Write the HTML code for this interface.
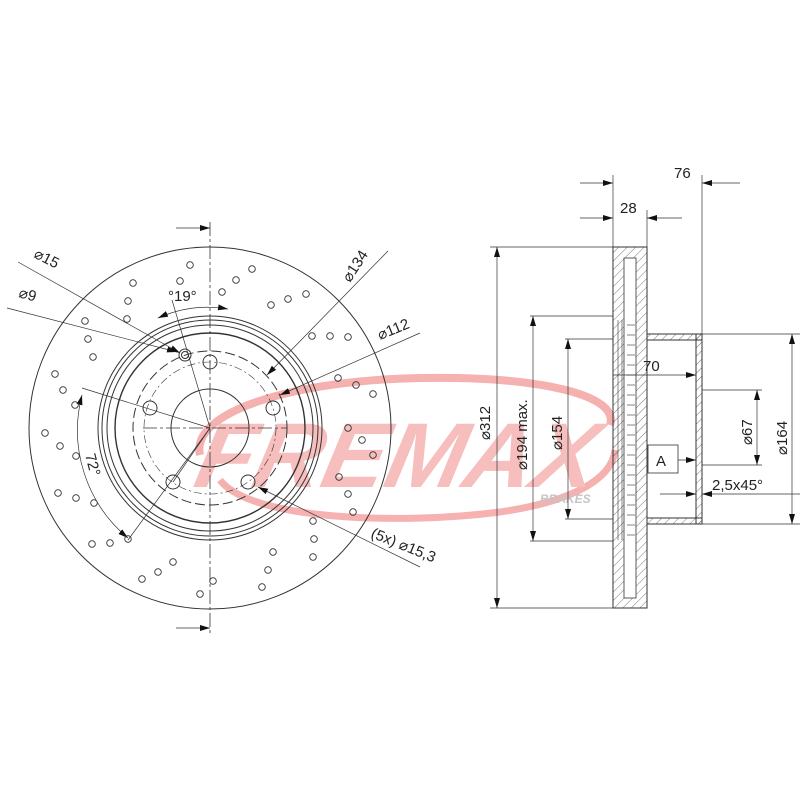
<!DOCTYPE html>
<html><head><meta charset="utf-8"><style>html,body{margin:0;padding:0;background:#fff}svg{display:block}</style></head>
<body>
<svg width="800" height="800" viewBox="0 0 800 800" xmlns="http://www.w3.org/2000/svg" font-family="Liberation Sans, sans-serif">
<defs>
<pattern id="h" width="6" height="6" patternUnits="userSpaceOnUse" patternTransform="rotate(45)">
<line x1="0" y1="0" x2="0" y2="6" stroke="#555" stroke-width="0.8"/></pattern>
<marker id="a" viewBox="0 0 10 6" refX="10" refY="3" markerWidth="10" markerHeight="6" orient="auto-start-reverse" markerUnits="userSpaceOnUse"><path d="M0,0L10,3L0,6z" fill="#111"/></marker>
</defs>

<!-- FREMAX logo -->
<g opacity="0.85">
<path d="M200,455 C190,410 300,380 420,378 C540,376 620,395 610,425" fill="none" stroke="#f4a3a3" stroke-width="8"/>
<path d="M220,480 C250,520 400,525 500,512 C570,502 612,480 615,450" fill="none" stroke="#f4a3a3" stroke-width="7"/>
<text x="200" y="487" font-size="92" font-weight="bold" font-style="italic" fill="#f6b3b3" transform="skewX(-12) translate(95 0)" textLength="400" lengthAdjust="spacingAndGlyphs">FREMAX</text>
<text x="540" y="503" font-size="12" font-weight="bold" font-style="italic" fill="#bbb">BRAKES</text>
</g>

<g fill="none" stroke="#333" stroke-width="1">
<!-- left view -->
<circle cx="210" cy="428" r="181"/>
<circle cx="210" cy="428" r="112"/>
<circle cx="210" cy="428" r="108"/>
<circle cx="210" cy="428" r="103"/>
<circle cx="210" cy="428" r="95" stroke-width="1.4"/>
<circle cx="210" cy="428" r="77" stroke-dasharray="10 4"/>
<circle cx="210" cy="428" r="39"/>
<circle cx="210" cy="428" r="66" stroke-dasharray="8 3 2 3" stroke-width="0.6"/>
<line x1="210" y1="222" x2="210" y2="636" stroke-dasharray="14 3 3 3" stroke-width="0.8"/>
<line x1="143" y1="428" x2="287" y2="428" stroke-dasharray="14 3 3 3" stroke-width="0.7"/>
<g>
<circle cx="210" cy="362" r="7"/><circle cx="150" cy="408" r="7"/><circle cx="173" cy="482" r="7"/><circle cx="248" cy="482" r="7"/><circle cx="273" cy="408" r="7"/>
<circle cx="185" cy="355" r="6"/><circle cx="185" cy="355" r="3.5"/>
</g>
<g stroke-width="0.7">
<line x1="210" y1="428" x2="82" y2="388"/>
<line x1="210" y1="428" x2="128" y2="540"/>
<line x1="210" y1="428" x2="172" y2="300"/>
<line x1="210" y1="428" x2="173" y2="482"/>
<path d="M82,395 A140 140 0 0 0 128 538" marker-start="url(#a)" marker-end="url(#a)"/>
<path d="M158,318 A122 122 0 0 1 228 309" marker-start="url(#a)" marker-end="url(#a)"/>
<line x1="18" y1="262" x2="180" y2="353" marker-end="url(#a)"/>
<line x1="7" y1="308" x2="177" y2="352" marker-end="url(#a)"/>
<line x1="388" y1="251" x2="267" y2="375" marker-end="url(#a)"/>
<line x1="420" y1="333" x2="280" y2="395" marker-end="url(#a)"/>
<line x1="420" y1="567" x2="258" y2="487" marker-end="url(#a)"/>
<line x1="176" y1="228" x2="210" y2="228" marker-end="url(#a)"/>
<line x1="176" y1="628" x2="210" y2="628" marker-end="url(#a)"/>
</g>
<!-- drill holes -->
<g stroke-width="0.9">
<circle cx="190" cy="265" r="3.3"/><circle cx="252" cy="269" r="3.3"/><circle cx="180" cy="281" r="3.3"/><circle cx="236" cy="280" r="3.3"/><circle cx="133" cy="283" r="3.3"/><circle cx="222" cy="292" r="3.3"/><circle cx="306" cy="294" r="3.3"/><circle cx="288" cy="299" r="3.3"/><circle cx="271" cy="305" r="3.3"/><circle cx="128" cy="301" r="3.3"/><circle cx="127" cy="319" r="3.3"/><circle cx="85" cy="321" r="3.3"/><circle cx="88" cy="339" r="3.3"/><circle cx="93" cy="357" r="3.3"/><circle cx="312" cy="336" r="3.3"/><circle cx="330" cy="336" r="3.3"/><circle cx="348" cy="337" r="3.3"/><circle cx="55" cy="374" r="3.3"/><circle cx="63" cy="390" r="3.3"/><circle cx="75" cy="405" r="3.3"/><circle cx="338" cy="378" r="3.3"/><circle cx="356" cy="385" r="3.3"/><circle cx="373" cy="394" r="3.3"/><circle cx="348" cy="428" r="3.3"/><circle cx="362" cy="440" r="3.3"/><circle cx="373" cy="455" r="3.3"/><circle cx="339" cy="477" r="3.3"/><circle cx="348" cy="494" r="3.3"/><circle cx="353" cy="512" r="3.3"/><circle cx="45" cy="433" r="3.3"/><circle cx="60" cy="446" r="3.3"/><circle cx="76" cy="456" r="3.3"/><circle cx="58" cy="493" r="3.3"/><circle cx="76" cy="498" r="3.3"/><circle cx="94" cy="503" r="3.3"/><circle cx="313" cy="521" r="3.3"/><circle cx="314" cy="539" r="3.3"/><circle cx="313" cy="557" r="3.3"/><circle cx="92" cy="544" r="3.3"/><circle cx="110" cy="543" r="3.3"/><circle cx="128" cy="539" r="3.3"/><circle cx="273" cy="552" r="3.3"/><circle cx="173" cy="562" r="3.3"/><circle cx="158" cy="572" r="3.3"/><circle cx="142" cy="579" r="3.3"/><circle cx="268" cy="570" r="3.3"/><circle cx="213" cy="581" r="3.3"/><circle cx="262" cy="587" r="3.3"/><circle cx="200" cy="594" r="3.3"/>
</g>

<!-- right section view -->
<rect x="613" y="247" width="34" height="361" fill="url(#h)" stroke="#333"/>
<rect x="624" y="258" width="12" height="340" fill="#fff" stroke="#333" stroke-width="0.8"/>
<path d="M647,334 H702 V524 H647 M647,340 H696 V518 H647" stroke="#333"/>
<rect x="647" y="334" width="55" height="6" fill="url(#h)"/>
<rect x="647" y="518" width="55" height="6" fill="url(#h)"/>
<rect x="696" y="334" width="6" height="190" fill="url(#h)"/>
<g stroke-width="0.6">
<line x1="627" y1="325" x2="635" y2="325"/><line x1="627" y1="335" x2="635" y2="335"/><line x1="627" y1="345" x2="635" y2="345"/><line x1="627" y1="355" x2="635" y2="355"/><line x1="627" y1="365" x2="635" y2="365"/><line x1="627" y1="375" x2="635" y2="375"/><line x1="627" y1="385" x2="635" y2="385"/><line x1="627" y1="395" x2="635" y2="395"/><line x1="627" y1="405" x2="635" y2="405"/><line x1="627" y1="415" x2="635" y2="415"/><line x1="627" y1="425" x2="635" y2="425"/><line x1="627" y1="435" x2="635" y2="435"/><line x1="627" y1="445" x2="635" y2="445"/><line x1="627" y1="455" x2="635" y2="455"/><line x1="627" y1="465" x2="635" y2="465"/><line x1="627" y1="475" x2="635" y2="475"/><line x1="627" y1="485" x2="635" y2="485"/><line x1="627" y1="495" x2="635" y2="495"/><line x1="627" y1="505" x2="635" y2="505"/><line x1="627" y1="515" x2="635" y2="515"/><line x1="627" y1="525" x2="635" y2="525"/><line x1="627" y1="535" x2="635" y2="535"/>
<line x1="618" y1="320" x2="618" y2="540"/><line x1="622" y1="320" x2="622" y2="540"/>
</g>
<!-- dimensions -->
<g stroke-width="0.7">
<line x1="613" y1="175" x2="613" y2="247"/><line x1="702" y1="175" x2="702" y2="334"/><line x1="647" y1="210" x2="647" y2="247"/>
<line x1="580" y1="183" x2="613" y2="183" marker-end="url(#a)"/><line x1="740" y1="183" x2="702" y2="183" marker-end="url(#a)"/>
<line x1="580" y1="218" x2="613" y2="218" marker-end="url(#a)"/><line x1="682" y1="218" x2="647" y2="218" marker-end="url(#a)"/>
<line x1="490" y1="247" x2="613" y2="247"/><line x1="490" y1="608" x2="613" y2="608"/>
<line x1="497" y1="247" x2="497" y2="608" marker-start="url(#a)" marker-end="url(#a)"/>
<line x1="530" y1="316" x2="613" y2="316"/><line x1="530" y1="541" x2="613" y2="541"/>
<line x1="533" y1="316" x2="533" y2="541" marker-start="url(#a)" marker-end="url(#a)"/>
<line x1="565" y1="339" x2="613" y2="339"/><line x1="565" y1="519" x2="613" y2="519"/>
<line x1="568" y1="339" x2="568" y2="519" marker-start="url(#a)" marker-end="url(#a)"/>
<line x1="613" y1="375" x2="696" y2="375" marker-end="url(#a)"/>
<line x1="702" y1="390" x2="762" y2="390"/><line x1="702" y1="465" x2="762" y2="465"/>
<line x1="757" y1="390" x2="757" y2="465" marker-start="url(#a)" marker-end="url(#a)"/>
<line x1="702" y1="334" x2="800" y2="334"/><line x1="702" y1="524" x2="800" y2="524"/>
<line x1="792" y1="334" x2="792" y2="524" marker-start="url(#a)" marker-end="url(#a)"/>
<line x1="660" y1="494" x2="696" y2="494" marker-end="url(#a)"/><line x1="800" y1="494" x2="702" y2="494" marker-end="url(#a)"/>
<line x1="678" y1="460" x2="696" y2="460" marker-end="url(#a)"/>
</g>
<rect x="648" y="445" width="30" height="28" stroke-width="0.8"/>
</g>

<g fill="#222" font-size="15">
<text x="674" y="178">76</text>
<text x="620" y="213">28</text>
<text x="643" y="371">70</text>
<text x="656" y="466">A</text>
<text x="712" y="490">2,5x45°</text>
<text transform="translate(490 440) rotate(-90)">⌀312</text>
<text transform="translate(527 470) rotate(-90)">⌀194 max.</text>
<text transform="translate(562 450) rotate(-90)">⌀154</text>
<text transform="translate(752 445) rotate(-90)">⌀67</text>
<text transform="translate(787 455) rotate(-90)">⌀164</text>
<text transform="translate(33 257) rotate(27)">⌀15</text>
<text transform="translate(18 297) rotate(15)">⌀9</text>
<text x="168" y="301">°19°</text>
<text transform="translate(350 283) rotate(-57)">⌀134</text>
<text transform="translate(380 340) rotate(-22)">⌀112</text>
<text transform="translate(85 455) rotate(75)">72°</text>
<text transform="translate(370 537) rotate(22)">(5x) ⌀15,3</text>
</g>
</svg>
</body></html>
